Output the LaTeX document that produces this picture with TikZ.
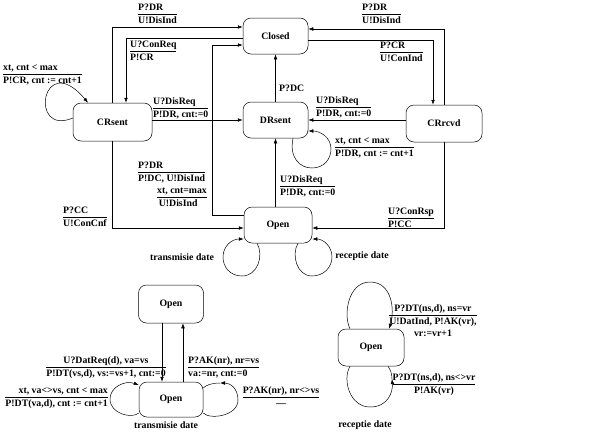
\documentclass[tikz,border=0pt]{standalone}
\usepackage{fontspec}
\setmainfont{Liberation Serif}
\usetikzlibrary{arrows.meta}
\newcommand{\fr}[3][l]{\begin{tabular}{@{}#1@{}}#2\\\hline #3\end{tabular}}
\renewcommand{\arraystretch}{1.05}
\begin{document}
\begin{tikzpicture}[x=1pt,y=-1pt,
  font=\fontsize{9.8}{12}\selectfont\bfseries,
  state/.style={draw, rounded corners=8pt, inner sep=0pt, line width=0.5pt},
  lab/.style={inner sep=0pt},
  arr/.style={-{Latex[length=5pt,width=3.6pt]}, line width=0.5pt},
  ln/.style={line width=0.5pt}]
\useasboundingbox (0,0) rectangle (596,442);
% ---------- top diagram states
\node[state, minimum width=65pt, minimum height=36pt] (closed) at (275.5,36) {Closed};
\node[state, minimum width=79pt, minimum height=38pt] (crsent) at (112.5,122) {CRsent};
\node[state, minimum width=65pt, minimum height=36pt] (drsent) at (275.5,120) {DRsent};
\node[state, minimum width=76pt, minimum height=37pt] (crrcvd) at (444,123.5) {CRrcvd};
\node[state, minimum width=68pt, minimum height=36pt] (open) at (278,225) {Open};
% ---------- top diagram transitions
\draw[arr] (crsent.north) |- (closed.west |- 0,27);
\draw[arr] (closed.west |- 0,38) -| (crsent.north -| 126,0);
\draw[arr] (crsent.west |- 0,118) .. controls (28,137) and (42,48) .. (crsent.north -| 88,0);
\draw[arr] (crsent.east |- drsent.west) -- (drsent.west);
\draw[arr] (drsent.north) -- (closed.south);
\draw[arr] (open.west |- 0,215) -| (212,45) -- (closed.west |- 0,45);
\draw[arr] (drsent.south |- open.north) -- (drsent.south);
\draw[arr] (crrcvd.west |- drsent.east) -- (drsent.east);
\draw[arr] (drsent.south -| 293,0) .. controls (289,158) and (300,168) .. (312,168)
   .. controls (324,168) and (331,159) .. (331,149)
   .. controls (331,137) and (320,131) .. (drsent.east |- 0,131);
\draw[arr] (closed.east |- 0,40) -| (crrcvd.north -| 433,0);
\draw[arr] (crrcvd.north) |- (closed.east |- 0,29);
\draw[arr] (crrcvd.south) |- (open.east |- 0,228);
\draw[arr] (crsent.south) |- (open.west |- 0,228);
\draw[arr] (open.south -| 257,0) .. controls (264,255) and (258,276) .. (242,276)
   .. controls (230,276) and (223,267) .. (223,257)
   .. controls (223,246) and (232,239) .. (open.west |- 0,239);
\draw[arr] (open.south -| 298,0) .. controls (291,255) and (297,276) .. (312,276)
   .. controls (324,276) and (332,267) .. (332,257)
   .. controls (332,246) and (323,239) .. (open.east |- 0,239);
% ---------- top diagram labels
\node[lab, anchor=west] at (138,14) {\fr{P?DR}{U!DisInd}};
\node[lab, anchor=west] at (130,51) {\fr{U?ConReq}{P!CR}};
\node[lab, anchor=west] at (3,74) {\fr{xt, cnt < max}{P!CR, cnt := cnt+1}};
\node[lab, anchor=west] at (153,108) {\fr{U?DisReq}{P!DR, cnt:=0}};
\node[lab, anchor=west] at (279,88) {P?DC};
\node[lab, anchor=west] at (362,14) {\fr{P?DR}{U!DisInd}};
\node[lab, anchor=west] at (380,52) {\fr{P?CR}{U!ConInd}};
\node[lab, anchor=west] at (316,107) {\fr{U?DisReq}{P!DR, cnt:=0}};
\node[lab, anchor=west] at (335,147) {\fr{xt, cnt < max}{P!DR, cnt := cnt+1}};
\node[lab, anchor=west] at (280,186) {\fr{U?DisReq}{P!DR, cnt:=0}};
\node[lab, anchor=west] at (138,172) {\fr{P?DR}{P!DC, U!DisInd}};
\node[lab, anchor=west] at (157,197) {\fr{xt, cnt=max}{\,U!DisInd}};
\node[lab, anchor=west] at (63,217) {\fr{P?CC}{U!ConCnf}};
\node[lab, anchor=west] at (388,218) {\fr{U?ConRsp}{P!CC}};
\node[lab] (td1) at (182,257) {transmisie date};
\node[lab] (rd1) at (362,256) {receptie date};
% ---------- bottom left diagram
\node[state, minimum width=65pt, minimum height=38pt] (topen) at (171,304) {Open};
\node[state, minimum width=64pt, minimum height=35pt] (bopen) at (171,399.5) {Open};
\draw[arr] (topen.south -| 162,0) -- (bopen.north -| 162,0);
\draw[arr] (bopen.north -| 183,0) -- (topen.south -| 183,0);
\draw[arr] (bopen.south west |- 0,413) .. controls (132,419) and (110,414) .. (110,399)
   .. controls (110,387) and (125,380) .. (bopen.west |- 0,385);
\draw[arr] (bopen.south east |- 0,413) .. controls (210,420) and (238,416) .. (238,400)
   .. controls (238,388) and (230,383) .. (220,383);
\draw[ln] (220,383) .. controls (212,383) and (206,385) .. (bopen.east |- 0,388);
\node[lab, anchor=center] at (106,367) {\fr[c]{U?DatReq(d), va=vs}{P!DT(vs,d), vs:=vs+1, cnt:=0}};
\node[lab, anchor=west] at (188,367) {\fr{P?AK(nr), nr=vs}{va:=nr, cnt:=0}};
\node[lab, anchor=east] at (108,397) {\fr[r]{xt, va<>vs, cnt < max}{P!DT(va,d), cnt := cnt+1}};
\node[lab, anchor=center] at (281,397) {\fr[c]{P?AK(nr), nr<>vs}{---}};
\node[lab] (td2) at (166,425) {transmisie date};
% ---------- bottom right diagram
\node[state, minimum width=66pt, minimum height=37pt] (ropen) at (371,347.5) {Open};
\draw[arr] (ropen.north -| 350,0) .. controls (343,315) and (348,282) .. (370,282)
   .. controls (392,282) and (395,310) .. (ropen.north -| 389,0);
\draw[arr] (ropen.south -| 350,0) .. controls (342,380) and (350,407) .. (370,407)
   .. controls (388,407) and (393,392) .. (392,379);
\draw[ln] (392,379) .. controls (392,373) and (390,369) .. (ropen.south -| 388,0);
\node[lab, anchor=north] at (433,302) {\begin{tabular}{@{}c@{}}P?DT(ns,d), ns=vr\\\hline U!DatInd, P!AK(vr),\\ vr:=vr+1\end{tabular}};
\node[lab, anchor=center] at (434,384) {\fr[c]{P?DT(ns,d), ns<>vr}{P!AK(vr)}};
\node[lab] (rd2) at (365,425) {receptie date};
\end{tikzpicture}
\end{document}
